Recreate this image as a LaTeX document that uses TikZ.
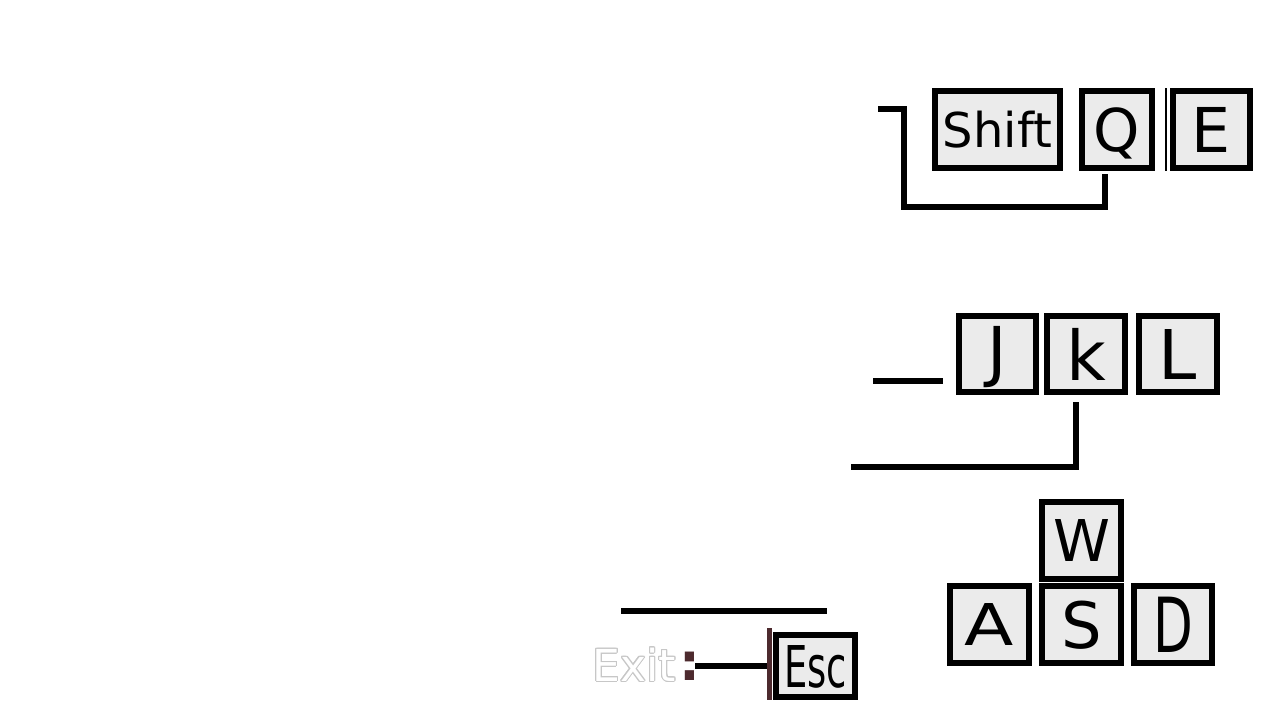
\documentclass[tikz,border=0pt]{standalone}
\usepackage{fontspec}
\setmainfont{DejaVu Sans}
\usepackage{contour}
\contourlength{0.5pt}
\usetikzlibrary{calc}
\definecolor{keyfill}{RGB}{235,235,235}
\definecolor{darkbrown}{RGB}{77,42,46}
\newcommand{\kf}[1]{\fontsize{#1}{#1}\selectfont}
\begin{document}
\begin{tikzpicture}[x=0.5pt,y=-0.5pt,
  key/.style={draw=black, line width=3pt, fill=keyfill, inner sep=0pt, text depth=0pt},
  wire/.style={draw=black, line width=3pt}]
\useasboundingbox (0,0) rectangle (1280,720);
\fill[white] (0,0) rectangle (1280,720);

% top row
\node[key, minimum width=62.5pt, minimum height=38.5pt, font=\kf{24}] (shift) at (997.5,129.5) {Shift};
\node[key, minimum width=35pt, minimum height=38.5pt, font=\kf{29.5}] (Q) at (1117,129.5) {Q};
\node[key, minimum width=38.5pt, minimum height=38.5pt, font=\kf{30.9}] (E) at (1211.5,129.5) {E};
\coordinate (sep1) at (1166,88);
\coordinate (sep2) at (1166,171);
\draw[line width=1pt] (sep1) -- (sep2);

% JKL row
\node[key, minimum width=38.5pt, minimum height=38pt, font=\kf{33}] (J) at (997.5,354) {\raisebox{0.12em}{J}};
\node[key, minimum width=39pt, minimum height=38pt, font=\kf{34.3}] (K) at (1086,354) {k};
\node[key, minimum width=39pt, minimum height=38pt, font=\kf{34.3}] (L) at (1178,354) {L};

% WASD
\node[key, minimum width=39.5pt, minimum height=38.5pt, font=\kf{28.8}] (W) at (1081.5,540.5) {W};
\node[key, minimum width=39.5pt, minimum height=38.5pt, font=\kf{28.8}] (A) at (989.5,624.5) {\scalebox{1.25}[1]{A}};
\node[key, minimum width=39.5pt, minimum height=38.5pt, font=\kf{32}] (S) at (1081.5,624.5) {S};
\node[key, minimum width=39pt, minimum height=38.5pt, font=\kf{38}] (D) at (1173,624.5) {\scalebox{0.68}[1]{D}};

% Esc
\node[key, minimum width=39.5pt, minimum height=31pt, font=\kf{28.8}] (Esc) at (815.5,666) {\scalebox{0.64}[1]{Esc}};

% connectors
\coordinate (qstart) at (878,108.5);
\draw[wire] (qstart) -- (904,108.5) -- (904,207) -| ([xshift=-6.25pt,yshift=-1.5pt]Q.south);

\coordinate (jl1) at (873,380.5);
\coordinate (jl2) at (943,380.5);
\draw[wire] (jl1) -- (jl2);

\coordinate (kend) at (851,466.5);
\draw[wire] ([xshift=-5.25pt,yshift=-3.5pt]K.south) |- (kend);

\coordinate (t1) at (621,610.5);
\coordinate (t2) at (827,610.5);
\draw[wire] (t1) -- (t2);

% Exit
\node[font=\kf{22}, inner sep=0pt, anchor=west] (exit) at (592,665) {\contour{black!22}{\textcolor{white}{Exit}}};
\node[text=darkbrown, font=\kf{26}\bfseries, inner sep=0pt, anchor=west] (colon) at (679,666) {:};
\coordinate (b1) at (769.5,628);
\coordinate (b2) at (769.5,700);
\draw[line width=2.5pt, darkbrown] (b1) -- (b2);
\coordinate (e1) at (695,665.5);
\coordinate (e2) at (767,665.5);
\draw[wire] (e1) -- (e2);
\end{tikzpicture}
\end{document}
